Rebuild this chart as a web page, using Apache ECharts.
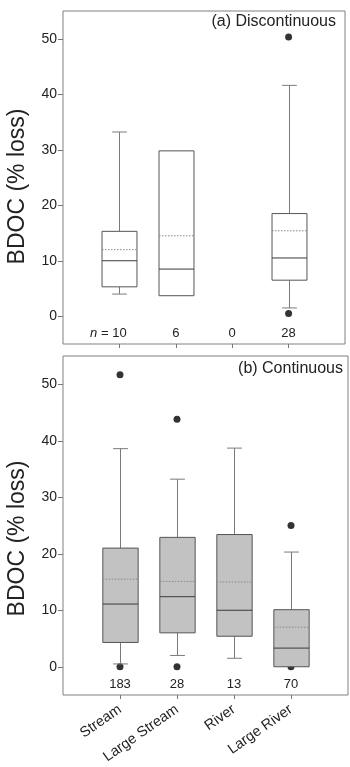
<!DOCTYPE html>
<html>
<head>
<meta charset="utf-8">
<script src="https://cdn.jsdelivr.net/npm/echarts@6/dist/echarts.min.js"></script>
<style>
  html, body { margin: 0; padding: 0; background: #fff; }
  #main { width: 350px; height: 767px; }
</style>
</head>
<body>
<div id="main"></div>
<script>
// categories / sample sizes
var categories = ['Stream', 'Large Stream', 'River', 'Large River'];
var discN = ['10', '6', '0', '28'];
var contN = ['183', '28', '13', '70'];
var yTicks = [0, 10, 20, 30, 40, 50];

// box values: [whisker low, q1, median, q3, whisker high, mean], null = no data
var discBoxes = [
    [4.0, 5.3, 10.0, 15.3, 33.2, 12.0],
    [3.7, 3.7, 8.5, 29.8, 29.8, 14.5],
    null,
    [1.5, 6.5, 10.5, 18.5, 41.6, 15.4]
];
var contBoxes = [
    [0.5, 4.3, 11.1, 21.0, 38.6, 15.5],
    [2.0, 6.0, 12.4, 22.9, 33.2, 15.1],
    [1.5, 5.4, 10.0, 23.4, 38.7, 15.0],
    [0.0, 0.0, 3.3, 10.1, 20.3, 7.0]
];

// outliers: [category index (1-based), value]
var discOutliers = [[4, 50.3], [4, 0.5]];
var contOutliers = [[1, 51.7], [1, 0.0], [2, 43.8], [2, 0.0], [4, 25.0], [4, 0.0]];

var font = 'Liberation Sans, Arial, sans-serif';
var catPos = [1, 2, 3, 4];

function boxData(boxes) {
    var out = [];
    for (var i = 0; i < boxes.length; i++) {
        if (boxes[i]) out.push([i + 1].concat(boxes[i]));
    }
    return out;
}

function renderBox(fill) {
    return function (params, api) {
        var x = api.value(0);
        var lo = api.value(1), q1 = api.value(2), med = api.value(3),
            q3 = api.value(4), hi = api.value(5), mean = api.value(6);
        var half = api.size([0.62, 0])[0] / 2;
        var cap = api.size([0.26, 0])[0] / 2;
        var pLo = api.coord([x, lo]), pQ1 = api.coord([x, q1]), pMed = api.coord([x, med]),
            pQ3 = api.coord([x, q3]), pHi = api.coord([x, hi]), pMean = api.coord([x, mean]);
        var cx = Math.round(pMed[0]) + 0.5;
        var wStyle = { stroke: '#7a7a7a', lineWidth: 1 };
        var kids = [];
        if (hi > q3) {
            kids.push({ type: 'line', shape: { x1: cx, y1: pQ3[1], x2: cx, y2: pHi[1] }, style: wStyle });
            kids.push({ type: 'line', shape: { x1: cx - cap, y1: pHi[1], x2: cx + cap, y2: pHi[1] }, style: wStyle });
        }
        if (lo < q1) {
            kids.push({ type: 'line', shape: { x1: cx, y1: pQ1[1], x2: cx, y2: pLo[1] }, style: wStyle });
            kids.push({ type: 'line', shape: { x1: cx - cap, y1: pLo[1], x2: cx + cap, y2: pLo[1] }, style: wStyle });
        }
        kids.push({
            type: 'rect',
            shape: { x: cx - half, y: pQ3[1], width: half * 2, height: pQ1[1] - pQ3[1] },
            style: { fill: fill, stroke: '#555', lineWidth: 1 }
        });
        kids.push({ type: 'line', shape: { x1: cx - half, y1: pMed[1], x2: cx + half, y2: pMed[1] },
            style: { stroke: '#3a3a3a', lineWidth: 1 } });
        kids.push({ type: 'line', shape: { x1: cx - half, y1: pMean[1], x2: cx + half, y2: pMean[1] },
            style: { stroke: '#888', lineWidth: 1, lineDash: [1.5, 1.5] } });
        return { type: 'group', children: kids };
    };
}

function yAxis(idx, nameShift) {
    return {
        gridIndex: idx, type: 'value', min: -5, max: 55,
        axisLine: { show: false, onZero: false }, splitLine: { show: false },
        axisTick: { customValues: yTicks, length: 5, lineStyle: { color: '#777' } },
        axisLabel: { customValues: yTicks, margin: 6, fontSize: 14, color: '#222', fontFamily: font },
        name: 'BDOC (% loss)', nameLocation: 'middle', nameGap: 34,
        nameTextStyle: { fontSize: 23, color: '#222', fontFamily: font, padding: [0, nameShift, 0, 0] }
    };
}

function nAxis(idx, labels, italicN) {
    return {
        gridIndex: idx, type: 'value', min: 0, max: 5, position: 'bottom',
        axisLine: { show: false, onZero: false }, splitLine: { show: false },
        axisTick: { customValues: catPos, length: 4, lineStyle: { color: '#777' } },
        axisLabel: {
            inside: true, customValues: catPos, margin: 4, fontSize: 13, color: '#222', fontFamily: font,
            formatter: function (v) {
                var s = labels[v - 1];
                // number stays centred on the tick, "n =" hangs to the left
                return (italicN && v === 1) ? '{i|n} = ' + s + '{g|n = }' : s;
            },
            rich: {
                i: { fontStyle: 'italic', fontSize: 13, color: '#222', fontFamily: font },
                g: { fontSize: 13, color: 'transparent', fontFamily: font }
            }
        }
    };
}

var chart = echarts.init(document.getElementById('main'));
chart.setOption({
    animation: false,
    backgroundColor: '#fff',
    title: [
        { text: '(a) Discontinuous', right: 9, top: 9, textStyle: { fontSize: 16, fontWeight: 'normal', color: '#222', fontFamily: font } },
        { text: '(b) Continuous', right: 2, top: 356, textStyle: { fontSize: 16, fontWeight: 'normal', color: '#222', fontFamily: font } }
    ],
    grid: [
        { left: 63, top: 11, right: 5, height: 333, outerBoundsMode: 'none', show: true, borderColor: '#808080', borderWidth: 1, backgroundColor: 'transparent' },
        { left: 63, top: 356, right: 2, height: 339, outerBoundsMode: 'none', show: true, borderColor: '#808080', borderWidth: 1, backgroundColor: 'transparent' }
    ],
    xAxis: [
        nAxis(0, discN, true),
        nAxis(1, contN, false),
        {
            gridIndex: 1, type: 'value', min: 0, max: 5, position: 'bottom',
            axisLine: { show: false, onZero: false }, splitLine: { show: false }, axisTick: { show: false },
            axisLabel: {
                customValues: catPos, rotate: 35, margin: 13, fontSize: 14.5, color: '#222', fontFamily: font,
                formatter: function (v) { return categories[v - 1]; }
            }
        }
    ],
    yAxis: [yAxis(0, 18), yAxis(1, 26)],
    series: [
        { type: 'scatter', xAxisIndex: 0, yAxisIndex: 0, z: 1, symbolSize: 7, itemStyle: { color: '#000' }, data: discOutliers },
        { type: 'custom', xAxisIndex: 0, yAxisIndex: 0, z: 2, renderItem: renderBox('#fff'), encode: { x: 0, y: [1, 2, 3, 4, 5] }, data: boxData(discBoxes) },
        { type: 'scatter', xAxisIndex: 1, yAxisIndex: 1, z: 1, symbolSize: 7, itemStyle: { color: '#000' }, data: contOutliers },
        { type: 'custom', xAxisIndex: 1, yAxisIndex: 1, z: 2, renderItem: renderBox('#c2c2c2'), encode: { x: 0, y: [1, 2, 3, 4, 5] }, data: boxData(contBoxes) }
    ]
});
</script>
</body>
</html>
